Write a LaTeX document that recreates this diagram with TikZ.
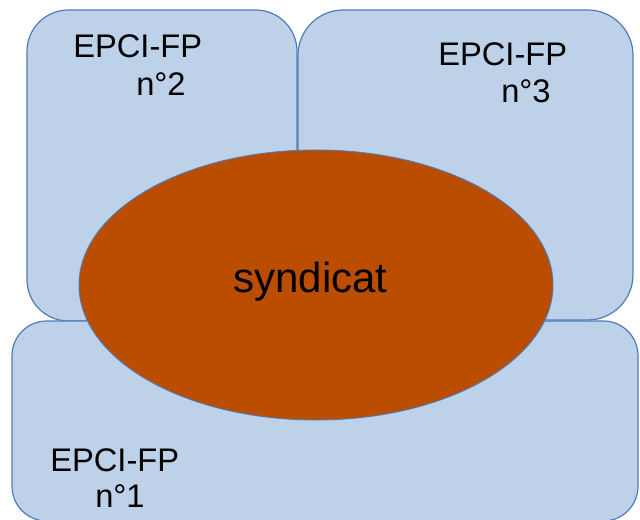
\documentclass[tikz,border=0pt]{standalone}
\usepackage{fontspec}
\setmainfont{Liberation Sans}
\definecolor{epcifill}{HTML}{BDD1E8}
\definecolor{epciline}{HTML}{4F7CB8}
\definecolor{syndfill}{HTML}{BB4D00}
\tikzset{
  epcibox/.style={fill=epcifill, draw=epciline, line width=0.9pt},
  syndshape/.style={fill=syndfill, draw=epciline, line width=0.7pt},
  epcilabel/.style={anchor=base west, inner sep=0pt, font=\fontsize{24.5}{29}\selectfont, text=black},
  syndlabel/.style={anchor=base, inner sep=0pt, font=\fontsize{31.5}{36}\selectfont, text=black}
}
\begin{document}
\begin{tikzpicture}[x=0.75pt, y=-0.75pt]
  \useasboundingbox (0,0) rectangle (640,520);
  % member EPCI-FP areas
  \path[epcibox, rounded corners=31pt] (27,10) rectangle (297,321);
  \path[epcibox, rounded corners=34pt] (298,10) rectangle (633,320);
  \path[epcibox, rounded corners=26pt] (12,321) rectangle (638,521);
  % the syndicate overlapping the three members
  \path[syndshape] (316,285) ellipse [x radius=177.75pt, y radius=101.25pt];
  % labels
  \node[epcilabel] (e2a) at (73,58) {EPCI-FP};
  \node[epcilabel] (e2b) at (136,96) {n°2};
  \node[epcilabel] (e3a) at (438,66) {EPCI-FP};
  \node[epcilabel] (e3b) at (501,103) {n°3};
  \node[epcilabel] (e1a) at (50,472) {EPCI-FP};
  \node[epcilabel] (e1b) at (95,508) {n°1};
  \node[syndlabel] (synd) at (310.5,293) {syndicat};
\end{tikzpicture}
\end{document}
